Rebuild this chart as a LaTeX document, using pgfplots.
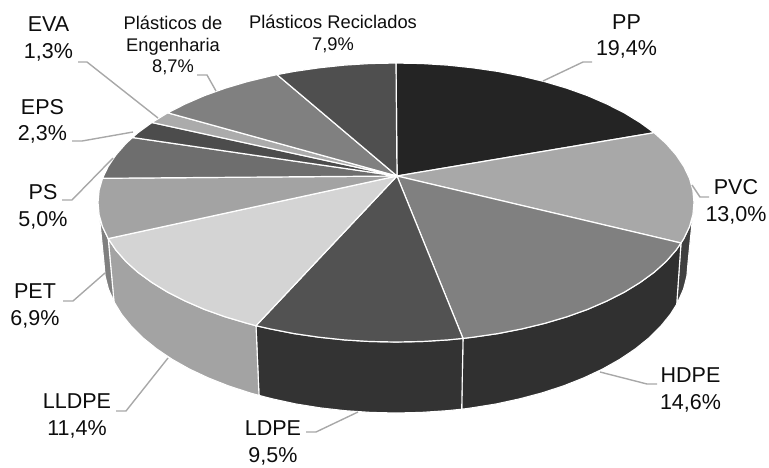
\documentclass[border=0pt]{standalone}
\usepackage{pgfplots}
\pgfplotsset{compat=1.18}
\usepackage{fontspec}
\setmainfont{Liberation Sans}
\definecolor{lead}{gray}{0.66}
\definecolor{txt}{gray}{0.05}
\tikzset{
  big/.style={font=\fontsize{21.5}{26.5}\selectfont, align=center, text=txt, inner sep=0pt},
  small/.style={font=\fontsize{18.3}{21.5}\selectfont, align=center, text=txt, inner sep=0pt},
}
\pgfplotsset{
  wall/.style={fill=#1, draw=white, line width=1.1pt, line join=round},
  slice/.style={fill=#1, draw=white, line width=1.2pt, line join=round},
  leader/.style={draw=lead, line width=1.4pt},
}
\begin{document}
\begin{tikzpicture}
\path[use as bounding box] (0,0) rectangle (769pt,467pt);
\begin{axis}[
    at={(0,0)}, anchor=south west,
    scale only axis, width=769pt, height=467pt,
    xmin=0, xmax=769, ymin=0, ymax=467,
    y dir=reverse,
    hide axis, clip=false,
]
% walls
\addplot[wall={black!75}] coordinates {(694,202.5) (692.9,214.7) (689.5,226.7) (683.8,238.6) (681,243) (676.7,304.3) (678,301.8) (683.6,289) (686.9,276.1) (688,263)} -- cycle;
\addplot[wall={black!81}] coordinates {(681,243) (676,250.2) (666.1,261.5) (654.1,272.3) (640.1,282.5) (624.3,292.2) (606.7,301.1) (587.6,309.4) (566.9,316.8) (545,323.3) (521.9,328.9) (497.9,333.6) (473.1,337.2) (463,338.4) (461.7,409.2) (471.6,407.9) (495.9,404) (519.4,398.9) (542,392.9) (563.5,385.9) (583.7,377.9) (602.5,369.1) (619.7,359.4) (635.2,349) (648.9,338) (660.6,326.4) (670.4,314.3) (676.7,304.3)} -- cycle;
\addplot[wall={black!80}] coordinates {(463,338.4) (447.7,339.9) (422,341.5) (396,342) (370,341.5) (344.3,339.9) (318.9,337.2) (294.1,333.6) (270.1,328.9) (256,325.7) (259,395.4) (272.6,398.9) (296.1,404) (320.4,407.9) (345.3,410.7) (370.6,412.4) (396,413) (421.4,412.4) (446.7,410.7) (461.7,409.2)} -- cycle;
\addplot[wall={black!36}] coordinates {(256,325.7) (247,323.3) (225.1,316.8) (204.4,309.4) (185.3,301.1) (167.7,292.2) (151.9,282.5) (137.9,272.3) (125.9,261.5) (116,250.2) (108.2,238.6) (114,301.8) (121.6,314.3) (131.4,326.4) (143.1,338) (156.8,349) (172.3,359.4) (189.5,369.1) (208.3,377.9) (228.5,385.9) (250,392.9) (259,395.4)} -- cycle;
\addplot[wall={black!50}] coordinates {(108.2,238.6) (102.5,226.7) (99.1,214.7) (98,202.5) (104,263) (105.1,276.1) (108.4,289) (114,301.8)} -- cycle;
% top
\addplot[slice={black!86}] coordinates {(397,176) (396,63) (422,63.5) (447.7,65.1) (473.1,67.8) (497.9,71.4) (521.9,76.1) (545,81.7) (566.9,88.2) (587.6,95.6) (606.7,103.9) (624.3,112.8) (640.1,122.5) (654.1,132.7)} -- cycle;
\addplot[slice={black!34}] coordinates {(397,176) (654.1,132.7) (666.1,143.5) (676,154.8) (683.8,166.4) (689.5,178.3) (692.9,190.3) (694,202.5) (692.9,214.7) (689.5,226.7) (683.8,238.6) (681,243)} -- cycle;
\addplot[slice={black!50}] coordinates {(397,176) (681,243) (676,250.2) (666.1,261.5) (654.1,272.3) (640.1,282.5) (624.3,292.2) (606.7,301.1) (587.6,309.4) (566.9,316.8) (545,323.3) (521.9,328.9) (497.9,333.6) (473.1,337.2) (463,338.4)} -- cycle;
\addplot[slice={black!68}] coordinates {(397,176) (463,338.4) (447.7,339.9) (422,341.5) (396,342) (370,341.5) (344.3,339.9) (318.9,337.2) (294.1,333.6) (270.1,328.9) (256,325.7)} -- cycle;
\addplot[slice={black!17}] coordinates {(397,176) (256,325.7) (247,323.3) (225.1,316.8) (204.4,309.4) (185.3,301.1) (167.7,292.2) (151.9,282.5) (137.9,272.3) (125.9,261.5) (116,250.2) (108.2,238.6)} -- cycle;
\addplot[slice={black!36}] coordinates {(397,176) (108.2,238.6) (102.5,226.7) (99.1,214.7) (98,202.5) (99.1,190.3) (102.5,178.3)} -- cycle;
\addplot[slice={black!57}] coordinates {(397,176) (102.5,178.3) (108.2,166.4) (116,154.8) (125.9,143.5) (132.5,137.5)} -- cycle;
\addplot[slice={black!70}] coordinates {(397,176) (132.5,137.5) (137.9,132.7) (151.9,122.5)} -- cycle;
\addplot[slice={black!33}] coordinates {(397,176) (151.9,122.5) (167.7,112.8)} -- cycle;
\addplot[slice={black!50}] coordinates {(397,176) (167.7,112.8) (185.3,103.9) (204.4,95.6) (225.1,88.2) (247,81.7) (270.1,76.1) (277,74.6)} -- cycle;
\addplot[slice={black!69}] coordinates {(397,176) (277,74.6) (294.1,71.4) (318.9,67.8) (344.3,65.1) (370,63.5) (396,63)} -- cycle;
% leader lines
\addplot[leader] coordinates {(592,62) (583,62) (543,81)};
\addplot[leader] coordinates {(709,197) (700,197) (692,185)};
\addplot[leader] coordinates {(657,384) (647,384) (600,372)};
\addplot[leader] coordinates {(306,432) (316,432) (358,412)};
\addplot[leader] coordinates {(116,411) (126,411) (168,358)};
\addplot[leader] coordinates {(63,301) (73,301) (105,273)};
\addplot[leader] coordinates {(62,200) (72,200) (113,158)};
\addplot[leader] coordinates {(72,141) (82,141) (133,132)};
\addplot[leader] coordinates {(78,62) (87,62) (158,118)};
\addplot[leader] coordinates {(197,75) (207,75) (216,91)};
% labels
\node[big] at (axis cs:626.5,36.5) {PP\\19,4\%};
\node[big] at (axis cs:736,202) {PVC\\13,0\%};
\node[big] at (axis cs:690.5,390) {HDPE\\14,6\%};
\node[big] at (axis cs:273,443) {LDPE\\9,5\%};
\node[big] at (axis cs:77,416) {LLDPE\\11,4\%};
\node[big] at (axis cs:35,306) {PET\\6,9\%};
\node[big] at (axis cs:43,207) {PS\\5,0\%};
\node[big] at (axis cs:42.5,121.5) {EPS\\2,3\%};
\node[big] at (axis cs:48.5,39) {EVA\\1,3\%};
\node[small] at (axis cs:173,45.5) {Plásticos de\\Engenharia\\8,7\%};
\node[small] at (axis cs:333,34) {Plásticos Reciclados\\7,9\%};
\end{axis}
\end{tikzpicture}
\end{document}
